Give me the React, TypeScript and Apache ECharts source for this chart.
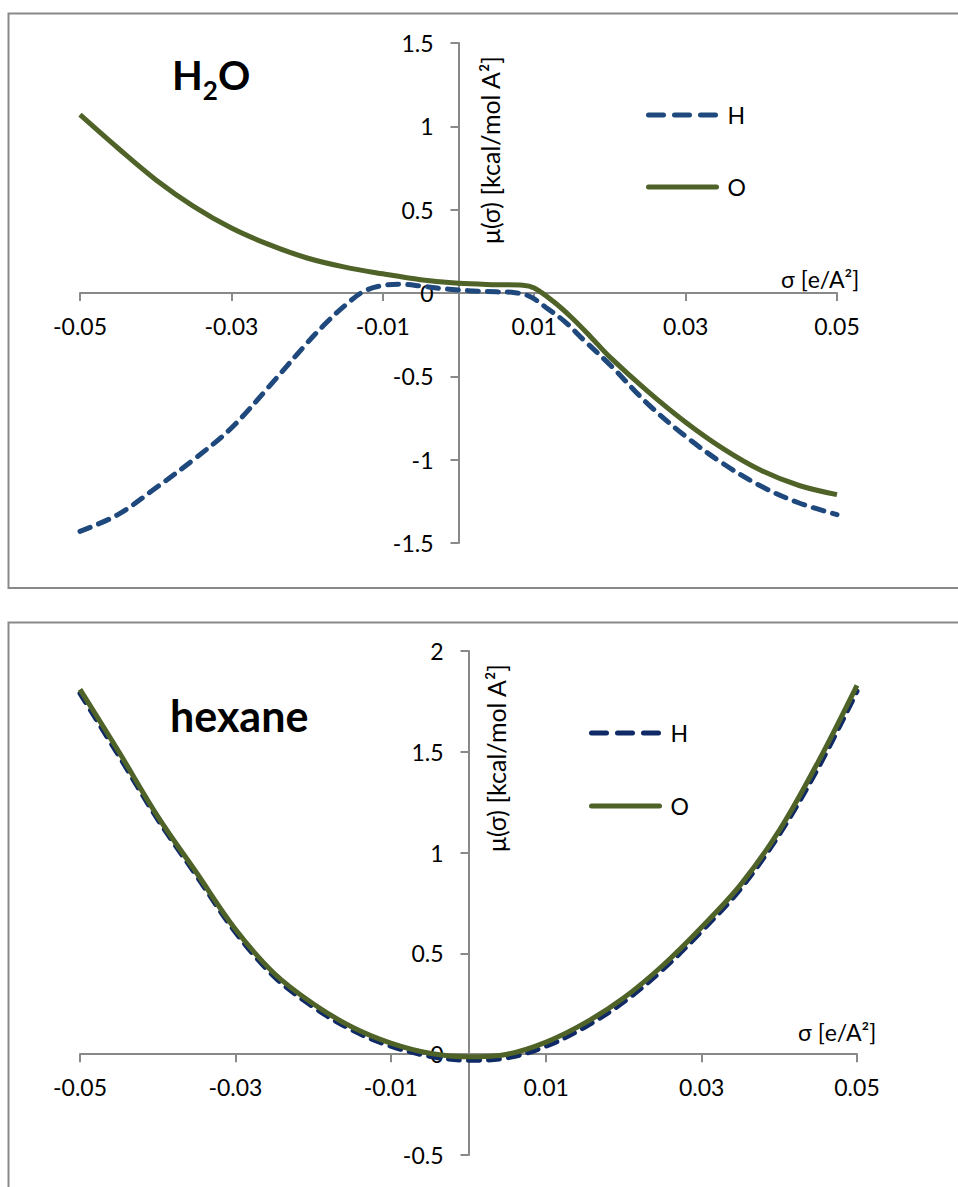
import React, { useEffect, useRef } from "react";
import * as echarts from "echarts";

// ---------- data ----------
const xTickLabels = ["-0.05", "-0.03", "-0.01", "0.01", "0.03", "0.05"];
const seriesNames = ["H", "O"];

// H2O
const h2oSigmaH = [-0.05, -0.045, -0.04, -0.035, -0.03, -0.025, -0.02, -0.0175, -0.015, -0.0125, -0.01, -0.0075, -0.005, -0.0025, 0, 0.0025, 0.005, 0.0075, 0.0095, 0.0115, 0.014, 0.0165, 0.02, 0.025, 0.03, 0.035, 0.04, 0.045, 0.05];
const h2oMuH = [-1.43, -1.33, -1.17, -1.0, -0.81, -0.56, -0.3, -0.18, -0.075, 0.01, 0.045, 0.052, 0.042, 0.028, 0.018, 0.011, 0.007, 0.002, -0.022, -0.085, -0.17, -0.28, -0.43, -0.665, -0.86, -1.025, -1.16, -1.26, -1.33];
const h2oSigmaO = [-0.05, -0.045, -0.04, -0.035, -0.03, -0.025, -0.02, -0.015, -0.01, -0.005, 0, 0.005, 0.0085, 0.01, 0.0125, 0.015, 0.0175, 0.02, 0.025, 0.03, 0.035, 0.04, 0.045, 0.05];
const h2oMuO = [1.07, 0.87, 0.68, 0.52, 0.39, 0.29, 0.21, 0.155, 0.115, 0.08, 0.058, 0.05, 0.047, 0.03, -0.05, -0.15, -0.265, -0.385, -0.59, -0.775, -0.935, -1.065, -1.155, -1.21];

// hexane
const hexSigma = [-0.05, -0.045, -0.04, -0.035, -0.03, -0.025, -0.02, -0.015, -0.01, -0.005, 0, 0.005, 0.01, 0.015, 0.02, 0.025, 0.03, 0.035, 0.04, 0.045, 0.05];
const hexMuH = [1.79, 1.48, 1.165, 0.885, 0.605, 0.385, 0.235, 0.12, 0.04, -0.01, -0.03, -0.018, 0.04, 0.135, 0.26, 0.42, 0.61, 0.82, 1.09, 1.42, 1.8];
const hexMuO = [1.81, 1.5, 1.18, 0.9, 0.62, 0.4, 0.25, 0.135, 0.055, 0.005, -0.013, 0.0, 0.06, 0.155, 0.28, 0.44, 0.63, 0.84, 1.11, 1.45, 1.83];

const FONT = "Lato, 'Open Sans', sans-serif";
const AXIS_COLOR = "#898989";
const O_COLOR = "#4F6228";
const LABEL_SIZE = 23;

const pairs = (xs: number[], ys: number[]) => xs.map((x, i) => [x, ys[i]]);

function makeOption(cfg: any) {
  const g = cfg.grid;
  // shift the axes so they cross at the origin (labels follow the line)
  const xOffset = -g.height * (0 - cfg.yMin) / (cfg.yMax - cfg.yMin);
  const yOffset = -g.width * (0 - -0.05) / 0.1;
  const axisCommon = {
    axisLine: { onZero: false, lineStyle: { color: AXIS_COLOR, width: 2 } },
    axisTick: { show: true, length: 8, lineStyle: { color: AXIS_COLOR, width: 2 } },
    splitLine: { show: false },
  };
  return {
    animation: false,
    grid: { left: g.left, top: g.top, width: g.width, height: g.height },
    xAxis: {
      type: "value",
      min: -0.05,
      max: 0.05,
      interval: 0.02,
      offset: xOffset,
      ...axisCommon,
      axisLabel: {
        fontSize: LABEL_SIZE,
        fontFamily: FONT,
        color: "#000",
        margin: 21,
        formatter: (v: number) => {
          const s = v.toFixed(2);
          return xTickLabels.indexOf(s) >= 0 ? s : "";
        },
      },
    },
    yAxis: {
      type: "value",
      min: cfg.yMin,
      max: cfg.yMax,
      interval: 0.5,
      offset: yOffset,
      ...axisCommon,
      axisLabel: { fontSize: LABEL_SIZE, fontFamily: FONT, color: "#000", margin: 25 },
    },
    legend: {
      orient: "vertical",
      left: cfg.legend.left,
      top: cfg.legend.top,
      itemWidth: 68,
      itemHeight: 14,
      itemGap: cfg.legend.gap,
      textStyle: { fontSize: LABEL_SIZE, fontFamily: FONT, color: "#000", lineHeight: 24, padding: [0, 0, 0, 6] },
      itemStyle: { opacity: 0 },
      lineStyle: { width: 5, cap: "round" },
      data: [
        { name: seriesNames[0], lineStyle: { type: [15, 11], width: 5, cap: "round" } },
        { name: seriesNames[1] },
      ],
    },
    series: [
      {
        name: seriesNames[0],
        type: "line",
        data: cfg.hData,
        smooth: cfg.smooth,
        symbol: "none",
        showSymbol: false,
        lineStyle: { color: cfg.hColor, width: 5, type: [11, 9], cap: "round" },
        itemStyle: { color: cfg.hColor },
        z: 2,
      },
      {
        name: seriesNames[1],
        type: "line",
        data: cfg.oData,
        smooth: cfg.smooth,
        symbol: "none",
        showSymbol: false,
        lineStyle: { color: O_COLOR, width: 5 },
        itemStyle: { color: O_COLOR },
        z: 3,
      },
    ],
    graphic: cfg.graphic,
  };
}

function Chart({ option, top, height }: { option: any; top: number; height: number }) {
  const ref = useRef<HTMLDivElement>(null);
  useEffect(() => {
    if (!ref.current) return;
    const chart = echarts.init(ref.current, undefined, { renderer: "svg" });
    chart.setOption(option);
    return () => chart.dispose();
  }, [option]);
  return <div ref={ref} style={{ position: "absolute", left: 0, top, width: 958, height }} />;
}

const yNameText = "μ(σ) [kcal/mol A²]";
const xNameText = "σ [e/A²]";

const option1 = makeOption({
  grid: { left: 80, top: 43, width: 757, height: 500 },
  yMin: -1.5,
  yMax: 1.5,
  smooth: 0.35,
  legend: { left: 641, top: 98, gap: 48 },
  hColor: "#1F497D",
  hData: pairs(h2oSigmaH, h2oMuH),
  oData: pairs(h2oSigmaO, h2oMuO),
  graphic: [
    { type: "rect", shape: { x: 8.5, y: 13.5, width: 980, height: 574.5 }, style: { fill: "none", stroke: AXIS_COLOR, lineWidth: 2 }, silent: true, z: -10 },
    {
      type: "text",
      left: 172,
      top: 55,
      style: {
        text: "{b|H}{s|2}{b|O}",
        fill: "#000",
        rich: {
          b: { fontSize: 40, fontWeight: "bold", fontFamily: FONT, fill: "#000", padding: [0, 0, 8, 0], verticalAlign: "bottom" },
          s: { fontSize: 26, fontWeight: "bold", fontFamily: FONT, fill: "#000", verticalAlign: "bottom" },
        },
      },
    },
    { type: "text", x: 490, y: 150, rotation: Math.PI / 2, style: { text: yNameText, fontSize: 25, fontFamily: FONT, fill: "#000", align: "center", verticalAlign: "middle" } },
    { type: "text", x: 781, y: 279, style: { text: xNameText, fontSize: LABEL_SIZE, fontFamily: FONT, fill: "#000", align: "left", verticalAlign: "middle" } },
  ],
});

const option2 = makeOption({
  grid: { left: 80, top: 51, width: 777, height: 504 },
  yMin: -0.5,
  yMax: 2,
  smooth: 0.35,
  legend: { left: 584, top: 116, gap: 49 },
  hColor: "#0F2A66",
  hData: pairs(hexSigma, hexMuH),
  oData: pairs(hexSigma, hexMuO),
  graphic: [
    { type: "rect", shape: { x: 8.5, y: 22.5, width: 980, height: 700 }, style: { fill: "none", stroke: AXIS_COLOR, lineWidth: 2 }, silent: true, z: -10 },
    { type: "text", left: 170, top: 94, style: { text: "hexane", fontSize: 43, fontWeight: "bold", fontFamily: FONT, fill: "#000" } },
    { type: "text", x: 496, y: 158, rotation: Math.PI / 2, style: { text: yNameText, fontSize: 25, fontFamily: FONT, fill: "#000", align: "center", verticalAlign: "middle" } },
    { type: "text", x: 798, y: 432, style: { text: xNameText, fontSize: LABEL_SIZE, fontFamily: FONT, fill: "#000", align: "left", verticalAlign: "middle" } },
  ],
});

export default function App() {
  return (
    <div style={{ position: "absolute", left: 0, top: 0, width: 958, height: 1187, background: "#fff", overflow: "hidden" }}>
      <Chart option={option1} top={0} height={600} />
      <Chart option={option2} top={600} height={587} />
    </div>
  );
}
